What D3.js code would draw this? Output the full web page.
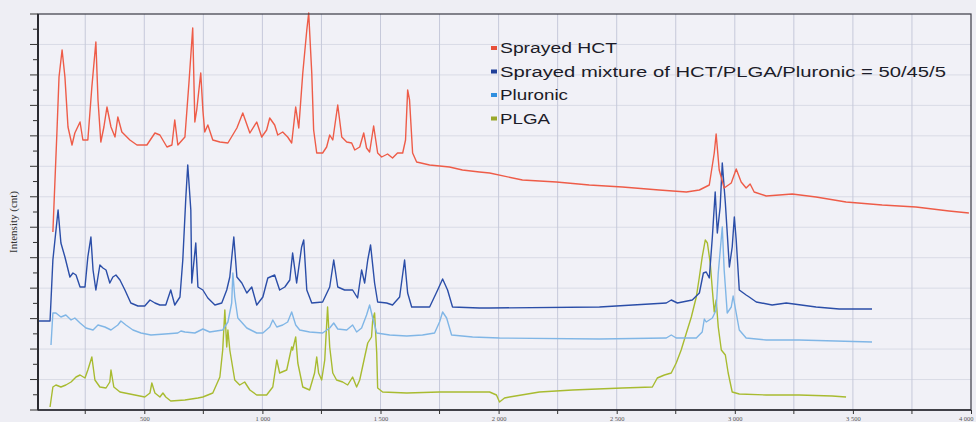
<!DOCTYPE html>
<html><head><meta charset="utf-8">
<script src="https://cdn.jsdelivr.net/npm/d3@7"></script>
<style>html,body{margin:0;padding:0;background:#eeeef4;} svg{display:block}</style>
</head><body><svg id="c" width="976" height="422"></svg>
<script>
// ---- data (wavenumber cm-1, intensity in arbitrary counts) ----
const seriesNames = ["Sprayed HCT", "Sprayed mixture of HCT/PLGA/Pluronic = 50/45/5", "Pluronic", "PLGA"];
const xTickValues = [500, 1000, 1500, 2000, 2500, 3000, 3500, 4000];
const xTickLabels = ["500", "1 000", "1 500", "2 000", "2 500", "3 000", "3 500", "4 000"];
const xMinorTicks = [250, 750, 1250, 1750, 2250, 2750, 3250, 3750];

const sprayedHCT = [[113,178],[130,277],[139,333],[152,360],[164,333],[177,283],[194,265],[206,277],[228,288],[240,270],[261,270],[278,323],[295,368],[304,310],[316,268],[329,283],[342,303],[359,283],[376,273],[388,293],[405,278],[439,270],[469,265],[511,265],[545,277],[566,275],[596,263],[617,265],[629,290],[642,265],[672,273],[689,327],[705,382],[714,288],[722,300],[739,337],[748,300],[756,278],[769,285],[790,270],[820,268],[854,267],[892,282],[917,297],[947,277],[976,288],[997,273],[1018,280],[1031,292],[1052,285],[1065,275],[1086,278],[1107,273],[1124,267],[1141,303],[1154,282],[1171,337],[1188,380],[1196,397],[1209,337],[1217,280],[1230,257],[1255,257],[1272,263],[1285,275],[1298,270],[1319,305],[1336,273],[1357,268],[1378,267],[1391,260],[1412,263],[1429,277],[1441,262],[1454,258],[1471,284],[1488,257],[1505,253],[1530,256],[1551,252],[1572,257],[1594,257],[1606,270],[1615,320],[1623,310],[1636,257],[1653,248],[1708,245],[1792,243],[1847,240],[1919,238],[1962,237],[2101,230],[2245,228],[2384,225],[2524,223],[2680,220],[2795,218],[2850,220],[2892,225],[2913,257],[2921,276],[2934,240],[2955,222],[2985,227],[3006,241],[3027,228],[3048,222],[3065,226],[3082,218],[3133,214],[3243,216],[3344,213],[3471,208],[3624,205],[3767,203],[3907,199],[3991,197]];

const sprayedMixture = [[50,89],[101,89],[113,150],[135,200],[147,167],[164,153],[185,133],[198,137],[211,135],[228,123],[249,123],[261,153],[274,173],[283,140],[295,120],[312,145],[325,142],[338,140],[354,127],[367,133],[380,135],[397,130],[418,120],[443,107],[473,104],[502,104],[524,110],[545,107],[566,105],[591,105],[612,120],[629,105],[651,113],[663,150],[676,213],[684,245],[697,200],[701,127],[718,167],[727,123],[748,120],[769,112],[799,105],[828,107],[849,120],[862,133],[879,173],[892,133],[913,127],[934,117],[955,123],[976,105],[1002,113],[1023,132],[1052,135],[1073,120],[1095,123],[1116,130],[1128,157],[1145,127],[1166,163],[1175,170],[1188,120],[1209,107],[1255,108],[1285,123],[1302,150],[1319,123],[1348,120],[1382,120],[1403,112],[1420,140],[1433,127],[1446,150],[1458,165],[1475,127],[1488,108],[1526,107],[1551,105],[1581,113],[1602,150],[1615,117],[1632,103],[1708,103],[1742,120],[1763,131],[1784,120],[1805,103],[1919,102],[1962,102],[2427,103],[2710,107],[2731,110],[2757,107],[2820,110],[2850,117],[2867,137],[2879,138],[2892,132],[2905,173],[2917,218],[2926,177],[2938,203],[2947,247],[2960,207],[2977,143],[2989,163],[2998,193],[3006,170],[3019,120],[3048,115],[3061,113],[3091,108],[3158,105],[3218,107],[3344,103],[3442,101],[3581,101]];

const pluronic = [[105,65],[113,97],[126,97],[147,93],[168,95],[190,90],[206,92],[228,87],[253,82],[283,80],[304,85],[333,83],[359,80],[388,85],[401,89],[422,85],[452,80],[486,77],[528,75],[587,76],[642,77],[655,79],[672,78],[714,77],[748,81],[777,78],[832,80],[854,88],[870,107],[875,137],[883,113],[896,92],[934,82],[976,77],[1002,77],[1031,83],[1044,90],[1061,83],[1086,85],[1107,88],[1124,98],[1141,85],[1158,80],[1200,78],[1255,77],[1285,82],[1302,87],[1319,81],[1357,80],[1382,85],[1399,78],[1420,82],[1441,95],[1454,105],[1467,92],[1484,77],[1539,75],[1611,74],[1678,75],[1729,77],[1750,88],[1763,98],[1780,92],[1801,75],[1890,73],[2004,72],[2427,71],[2710,72],[2731,75],[2752,72],[2837,72],[2862,78],[2871,91],[2879,88],[2905,92],[2921,100],[2930,137],[2947,183],[2955,140],[2968,97],[2985,103],[2993,114],[3006,97],[3019,80],[3048,72],[3133,70],[3272,70],[3581,68]];

const plga = [[101,3],[113,23],[126,25],[147,23],[168,25],[190,28],[211,33],[228,35],[249,32],[261,40],[278,53],[291,30],[312,23],[338,22],[354,28],[359,40],[371,23],[397,18],[460,15],[502,13],[524,17],[532,27],[545,17],[566,13],[579,17],[591,13],[612,9],[672,10],[727,12],[748,13],[790,17],[820,33],[832,60],[841,100],[849,63],[854,80],[862,60],[883,30],[904,25],[925,28],[947,20],[976,15],[1018,15],[1044,23],[1061,50],[1073,37],[1103,40],[1124,63],[1128,60],[1141,73],[1150,47],[1171,23],[1200,20],[1221,37],[1230,53],[1238,37],[1251,30],[1264,50],[1276,103],[1285,63],[1298,37],[1314,30],[1340,28],[1361,25],[1382,33],[1399,23],[1412,30],[1433,53],[1446,67],[1462,73],[1467,90],[1475,97],[1484,57],[1488,22],[1509,18],[1611,17],[1750,18],[1962,18],[1991,15],[2004,8],[2025,12],[2046,13],[2173,18],[2313,20],[2524,22],[2651,23],[2672,32],[2702,35],[2731,37],[2752,47],[2773,60],[2795,77],[2816,93],[2837,113],[2850,133],[2862,153],[2875,170],[2884,167],[2896,147],[2905,120],[2913,98],[2921,110],[2930,83],[2943,60],[2960,55],[2972,37],[2989,18],[3019,16],[3133,15],[3272,15],[3412,14],[3471,13]];

const seriesData = [sprayedHCT, sprayedMixture, pluronic, plga];
const lineColors = ["#ee5c48", "#2b4ea8", "#80b6e6", "#a8bb30"];
const legendColors = ["#e8503a", "#1f3f99", "#2f8fe0", "#9aa82a"];

// ---- chart ----
const svg = d3.select("#c");
const L = 38, R = 971, T = 14, B = 410;
svg.append("rect").attr("width", 976).attr("height", 422).attr("fill", "#eeeef4");
svg.append("rect").attr("x", L).attr("y", T).attr("width", R - L).attr("height", B - T).attr("fill", "#f1f1f7");

const x = d3.scaleLinear().domain([50, 4000]).range([L, R]);
const y = d3.scaleLinear().domain([0, 396]).range([B, T]);
const yTicks = d3.range(27).map(i => i * 396 / 26);

// grid
svg.append("g").selectAll("line").data(yTicks.filter((d, i) => i % 2 === 0 && i > 0 && i < 26)).join("line")
  .attr("x1", L).attr("x2", R).attr("y1", d => y(d)).attr("y2", d => y(d))
  .attr("stroke", "#d9dbe6").attr("stroke-width", 1);
svg.append("g").selectAll("line").data(xMinorTicks.concat(xTickValues.filter(v => v < 4000))).join("line")
  .attr("x1", d => x(d)).attr("x2", d => x(d)).attr("y1", T).attr("y2", B)
  .attr("stroke", "#c6c9da").attr("stroke-width", 1);

// series
const line = d3.line().x(d => x(d[0])).y(d => y(d[1])).curve(d3.curveLinear);
seriesData.slice().reverse().forEach((s, i) => {
  const k = seriesData.length - 1 - i;
  svg.append("path").datum(s).attr("d", line).attr("fill", "none")
    .attr("stroke", lineColors[k]).attr("stroke-width", 1.4).attr("stroke-linejoin", "round");
});

// frame
svg.append("rect").attr("x", L).attr("y", T).attr("width", R - L).attr("height", B - T)
  .attr("fill", "none").attr("stroke", "#3a3a44").attr("stroke-width", 1.2);
svg.append("line").attr("x1", L).attr("x2", L).attr("y1", T).attr("y2", B).attr("stroke", "#2a2a30").attr("stroke-width", 2);
svg.append("line").attr("x1", L).attr("x2", R).attr("y1", B).attr("y2", B).attr("stroke", "#2a2a30").attr("stroke-width", 1.6);

// y ticks
svg.append("g").selectAll("line").data(yTicks).join("line")
  .attr("x1", (d, i) => i % 2 === 0 ? L - 8 : L - 5).attr("x2", L)
  .attr("y1", d => y(d)).attr("y2", d => y(d))
  .attr("stroke", "#333").attr("stroke-width", 1);

// x axis
const xAxis = d3.axisBottom(x).tickValues(xTickValues).tickSize(4).tickPadding(2)
  .tickFormat((d, i) => xTickLabels[i]);
const gx = svg.append("g").attr("transform", `translate(0,${B})`).call(xAxis);
gx.select(".domain").remove();
gx.selectAll("line").attr("stroke", "#333");
gx.selectAll("text").attr("font-family", "Liberation Serif, serif").attr("font-size", 6.5).attr("fill", "#555");
gx.selectAll("text").filter(d => d === 4000).attr("text-anchor", "end").attr("dx", 2);
svg.append("g").selectAll("line").data(xMinorTicks).join("line")
  .attr("x1", d => x(d)).attr("x2", d => x(d)).attr("y1", B).attr("y2", B + 4).attr("stroke", "#333");

// y title
svg.append("text").attr("transform", "translate(17,222) rotate(-90)").attr("text-anchor", "middle")
  .attr("font-family", "Liberation Serif, serif").attr("font-size", 11).attr("fill", "#333")
  .text("Intensity (cnt)");

// legend
const legendWidths = [117, 446, 68, 50];
const lg = svg.append("g");
seriesNames.forEach((n, i) => {
  const yy = 53 + i * 23.5;
  lg.append("rect").attr("x", 491).attr("y", yy - 7).attr("width", 6).attr("height", 4).attr("fill", legendColors[i]);
  lg.append("text").attr("x", 500).attr("y", yy).attr("font-family", "Liberation Sans, Arial, sans-serif")
    .attr("font-size", 14).attr("fill", "#1c1c28")
    .attr("textLength", legendWidths[i]).attr("lengthAdjust", "spacingAndGlyphs").text(n);
});
</script></body></html>
